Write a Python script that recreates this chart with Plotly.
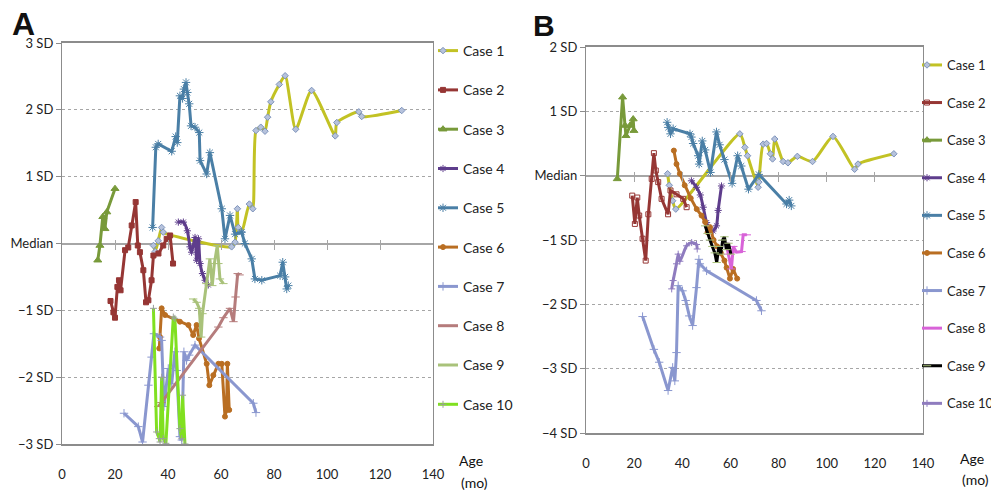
import plotly.graph_objects as go

# ---------------- data: panel A ----------------
case_names = ["Case 1", "Case 2", "Case 3", "Case 4", "Case 5",
              "Case 6", "Case 7", "Case 8", "Case 9", "Case 10"]

a1_age = [34.5, 35.2, 36.3, 37.6, 38.2, 64.0, 65.3, 66.2, 66.5, 67.8, 70.7, 72.0, 73.2, 75.0, 76.6,
          77.6, 78.8, 82.0, 84.2, 88.2, 94.2, 103.1, 103.7, 112.0, 113.1, 128.2]
a1_sd = [-0.03, -0.12, 0.04, 0.24, 0.17, -0.05, 0.02, 0.52, 0.24, 0.17, 0.59, 0.52, 1.69, 1.74, 1.68,
         1.89, 2.12, 2.38, 2.51, 1.71, 2.29, 1.61, 1.81, 1.97, 1.90, 1.99]
a2_age = [18.3, 19.4, 20.0, 20.9, 21.5, 22.1, 23.8, 25.0, 26.3, 27.8, 28.6, 29.4, 30.7, 31.7, 32.6,
          33.8, 34.5, 36.4, 38.2, 39.5, 40.8, 41.9]
a2_sd = [-0.86, -1.03, -1.11, -0.65, -0.55, -0.70, -0.10, -0.06, 0.27, 0.62, -0.03, -0.13, -0.40,
         -0.88, -0.85, -0.55, -0.18, -0.15, -0.03, 0.07, 0.12, -0.30]
a3_age = [13.5, 14.3, 15.4, 16.2, 16.9, 20.0]
a3_sd = [-0.25, -0.03, 0.40, 0.22, 0.47, 0.82]
a4_age = [43.9, 45.8, 47.3, 48.3, 48.9, 50.2, 50.8, 51.5, 52.1, 53.0, 54.0, 55.2]
a4_sd = [0.32, 0.32, 0.19, -0.05, -0.13, 0.09, -0.25, 0.07, -0.30, -0.45, -0.55, -0.62]
a5_age = [34.2, 35.4, 36.3, 41.4, 42.9, 43.5, 44.5, 45.5, 46.0, 46.8, 47.3, 48.0, 48.7, 50.2, 51.8,
          52.1, 54.6, 55.8, 60.3, 61.5, 63.4, 65.3, 67.8, 69.0, 71.6, 72.8, 75.4, 82.3, 83.3, 84.2,
          84.8, 85.4]
a5_sd = [0.24, 1.44, 1.49, 1.38, 1.60, 1.51, 2.21, 2.17, 2.31, 2.41, 2.26, 2.09, 1.76, 1.74, 1.66,
         1.24, 1.04, 1.36, 0.52, 0.07, 0.42, 0.14, 0.17, 0.00, -0.23, -0.53, -0.55, -0.48, -0.28,
         -0.50, -0.68, -0.63]
a6_age = [36.7, 37.0, 37.6, 38.9, 44.5, 47.7, 49.5, 50.8, 51.7, 54.6, 55.6, 57.1, 59.0, 60.3, 61.5,
          62.1, 62.4, 63.1]
a6_sd = [-1.57, -1.40, -0.97, -1.07, -1.17, -1.22, -1.37, -1.22, -1.42, -1.80, -2.12, -1.97, -1.80,
         -1.80, -2.59, -2.49, -1.80, -2.49]
a7_age = [23.4, 28.8, 30.4, 32.6, 33.8, 34.7, 37.0, 37.6, 38.5, 40.1, 41.4, 42.6, 43.3, 44.5, 45.2,
          46.0, 47.0, 48.0, 50.2, 72.2, 73.2]
a7_sd = [-2.54, -2.74, -2.97, -2.12, -1.70, -1.35, -1.40, -1.45, -2.44, -1.87, -2.10, -1.62, -1.90,
         -2.89, -2.94, -1.62, -1.75, -1.67, -1.52, -2.39, -2.53]
a8_age = [36.3, 37.5, 59.0, 60.9, 63.4, 64.7, 65.5, 66.3, 67.0]
a8_sd = [-2.44, -2.38, -1.25, -1.11, -0.97, -1.17, -0.80, -0.45, -0.47]
a9_age = [49.5, 50.8, 51.8, 52.5, 53.0, 54.5, 55.8, 56.7, 57.5, 58.6, 59.0, 59.6, 60.9]
a9_sd = [-0.83, -0.88, -0.97, -1.40, -1.05, -0.60, -0.23, -0.63, -0.30, -0.03, -0.30, -0.53, -0.60]
a10_age = [34.5, 35.7, 36.7, 37.0, 37.6, 38.2, 39.2, 42.0, 42.6, 44.5, 45.2, 45.5, 46.4]
a10_sd = [-0.97, -2.82, -2.92, -2.97, -2.00, -2.92, -2.99, -1.10, -1.12, -2.77, -2.92, -2.27, -3.00]

# ---------------- data: panel B ----------------
b1_age = [33.9, 34.6, 36.0, 37.3, 63.9, 66.0, 67.1, 71.5, 71.8, 73.6, 75.0, 76.6, 77.5, 78.4, 81.9,
          83.9, 87.8, 94.1, 102.6, 111.6, 113.0, 127.9]
b1_sd = [0.03, -0.15, -0.39, -0.52, 0.65, 0.44, 0.31, -0.18, -0.10, 0.49, 0.50, 0.34, 0.26, 0.57,
         0.22, 0.20, 0.30, 0.22, 0.61, 0.10, 0.18, 0.34]
b2_age = [19.2, 20.3, 21.3, 22.1, 23.5, 24.8, 25.9, 27.3, 28.2, 29.0, 30.0, 31.4, 34.1, 35.1, 37.6,
          40.4, 41.8]
b2_sd = [-0.31, -0.75, -0.34, -0.62, -0.98, -1.32, -0.60, -0.05, 0.35, 0.08, -0.10, -0.36, -0.60,
         -0.23, -0.29, -0.36, -0.49]
b3_age = [13.0, 15.2, 16.2, 16.6, 18.3, 19.6, 19.9]
b3_sd = [-0.05, 1.22, 0.78, 0.62, 0.78, 0.88, 0.70]
b4_age = [43.8, 45.9, 47.5, 48.7, 50.1, 51.5, 52.8, 54.2, 54.9, 56.3]
b4_sd = [-0.08, -0.18, -0.30, -0.49, -0.73, -0.85, -0.86, -0.78, -0.54, -0.16]
b5_age = [33.7, 34.2, 35.1, 36.2, 43.2, 43.8, 44.5, 46.6, 47.0, 48.3, 49.5, 51.7, 54.2, 55.5, 57.5,
          60.7, 63.0, 64.5, 67.5, 71.8, 83.3, 84.4, 85.3]
b5_sd = [0.83, 0.75, 0.65, 0.73, 0.65, 0.60, 0.50, 0.31, 0.18, 0.54, 0.40, 0.05, 0.68, 0.48, 0.25,
         -0.12, 0.31, 0.15, -0.21, 0.02, -0.44, -0.38, -0.47]
b6_age = [36.5, 37.6, 39.0, 41.0, 43.5, 46.0, 48.0, 49.5, 50.5, 51.5, 53.0, 54.5, 56.0, 57.5, 58.4,
          59.8, 61.1, 62.8]
b6_sd = [0.39, 0.18, 0.03, -0.15, -0.35, -0.52, -0.62, -0.72, -0.88, -0.80, -1.00, -1.10, -1.20,
         -1.32, -1.43, -1.60, -1.45, -1.60]
b7_age = [23.5, 28.2, 30.4, 34.1, 36.0, 36.9, 37.6, 38.3, 40.1, 41.4, 42.9, 44.3, 45.9, 46.9, 47.3,
          50.1, 70.8, 72.9]
b7_sd = [-2.19, -2.70, -2.90, -3.34, -2.98, -3.19, -2.75, -1.71, -1.79, -1.94, -2.18, -2.33, -1.74,
         -1.30, -1.37, -1.48, -1.94, -2.10]
b8_age = [58.2, 59.2, 60.4, 61.2, 62.5, 64.6, 65.3, 66.8]
b8_sd = [-1.05, -1.22, -1.45, -1.10, -1.19, -1.18, -0.92, -0.92]
b9_age = [49.5, 50.5, 51.5, 52.5, 53.5, 54.3, 55.2, 56.0, 56.8, 57.5, 58.3, 59.2, 60.2]
b9_sd = [-0.78, -0.90, -1.00, -1.10, -1.20, -1.35, -1.10, -1.22, -1.00, -0.95, -1.15, -1.05, -1.22]
b10_age = [35.6, 36.2, 37.6, 38.3, 39.0, 41.8, 43.9, 45.9, 46.2]
b10_sd = [-1.76, -1.63, -1.37, -1.22, -1.33, -1.09, -1.04, -1.07, -1.14]

a_tickvals = [3, 2, 1, 0, -1, -2, -3]
a_ticktext = ["3 SD", "2 SD", "1 SD", "Median", "\u22121 SD", "\u22122 SD", "\u22123 SD"]
b_tickvals = [2, 1, 0, -1, -2, -3, -4]
b_ticktext = ["2 SD", "1 SD", "Median", "\u22121 SD", "\u22122 SD", "\u22123 SD", "\u22124 SD"]
x_tickvals = [0, 20, 40, 60, 80, 100, 120, 140]

# ---------------- styles ----------------
FONT = "Lato, Carlito, Calibri, sans-serif"
# the page body has an 8px default margin, so the figure is sized to the visible area
OFF = 8
W, H = 999 - OFF, 492 - OFF


def px(sx):  # screen x -> paper fraction
    return (sx - OFF) / W


def py(sy):  # screen y -> paper fraction
    return 1 - (sy - OFF) / H


styles_a = [
    dict(color="#c2c224", sym="diamond", mcol="#b6c2dc", mline="#7d93bb", size=5, shape="spline"),
    dict(color="#963634", sym="square", mcol="#963634", mline="#963634", size=5, shape="linear"),
    dict(color="#789a3a", sym="triangle-up", mcol="#789a3a", mline="#789a3a", size=7, shape="linear"),
    dict(color="#5e3d8c", sym="asterisk-open", mcol="#5e3d8c", mline="#5e3d8c", size=6, shape="spline"),
    dict(color="#4a7fa6", sym="asterisk-open", mcol="#4a7fa6", mline="#8fb0c8", size=7, shape="linear"),
    dict(color="#b96e22", sym="circle", mcol="#b96e22", mline="#b96e22", size=5, shape="linear"),
    dict(color="#8a97cf", sym="cross-thin-open", mcol="#8a97cf", mline="#8a97cf", size=6, shape="linear"),
    dict(color="#b57c7c", sym="line-ew-open", mcol="#b57c7c", mline="#b57c7c", size=6, shape="linear"),
    dict(color="#a9c27a", sym="line-ew-open", mcol="#a9c27a", mline="#a9c27a", size=6, shape="linear"),
    dict(color="#80e020", sym="cross-thin-open", mcol="#9aa09a", mline="#9aa09a", size=5, shape="linear"),
]
styles_b = [dict(s) for s in styles_a]
styles_b[1].update(sym="square-open", mline="#963634")
styles_b[7].update(color="#d863d8", mcol="#d863d8", mline="#d863d8")
styles_b[8].update(color="#000000", mcol="#a9c27a", mline="#a9c27a")
styles_b[9].update(color="#8f7cbf", mcol="#8f7cbf", mline="#8f7cbf", shape="spline")

data_a = [(a1_age, a1_sd), (a2_age, a2_sd), (a3_age, a3_sd), (a4_age, a4_sd), (a5_age, a5_sd),
          (a6_age, a6_sd), (a7_age, a7_sd), (a8_age, a8_sd), (a9_age, a9_sd), (a10_age, a10_sd)]
data_b = [(b1_age, b1_sd), (b2_age, b2_sd), (b3_age, b3_sd), (b4_age, b4_sd), (b5_age, b5_sd),
          (b6_age, b6_sd), (b7_age, b7_sd), (b8_age, b8_sd), (b9_age, b9_sd), (b10_age, b10_sd)]

fig = go.Figure()


def add_series(data, styles, xa, ya, legend, prefix):
    for name, (xs, ys), st in zip(case_names, data, styles):
        fig.add_trace(go.Scatter(
            x=xs, y=ys, name=name, mode="lines+markers",
            xaxis=xa, yaxis=ya, legend=legend, legendgroup=prefix + name,
            line=dict(color=st["color"], width=3, shape=st["shape"], smoothing=0.6),
            marker=dict(symbol=st["sym"], size=st["size"], color=st["mcol"],
                        line=dict(color=st["mline"], width=1)),
        ))


add_series(data_a, styles_a, "x", "y", "legend", "A")
add_series(data_b, styles_b, "x2", "y2", "legend2", "B")

# invisible helper traces so the median tick axes are drawn
fig.add_trace(go.Scatter(x=[None], y=[None], xaxis="x3", yaxis="y", showlegend=False, hoverinfo="skip"))
fig.add_trace(go.Scatter(x=[None], y=[None], xaxis="x4", yaxis="y2", showlegend=False, hoverinfo="skip"))

# domains (paper fractions), from the reference's screen pixels
ax_dom = [px(62), px(433)]
bx_dom = [px(586), px(923)]
ay_dom = [py(444), py(43)]
by_dom = [py(433), py(47)]

a_median = ay_dom[0] + (ay_dom[1] - ay_dom[0]) * 3 / 6
b_median = by_dom[0] + (by_dom[1] - by_dom[0]) * 4 / 6

axis_line = "#8c8c8c"
tickfont = dict(family=FONT, size=13, color="#222")


def xaxis(dom, anchor):
    return dict(domain=dom, anchor=anchor, range=[0, 140], tickvals=x_tickvals,
                showgrid=False, zeroline=False, showline=True, mirror=True,
                linecolor=axis_line, linewidth=1.5, ticks="", ticklabelstandoff=18,
                tickfont=tickfont, fixedrange=True, automargin=False)


def yaxis(dom, anchor, rng, tv, tt):
    return dict(domain=dom, anchor=anchor, range=rng, tickvals=tv, ticktext=tt,
                showgrid=True, gridcolor="#a6a6a6", griddash="dot", gridwidth=1,
                zeroline=True, zerolinecolor="#a6a6a6", zerolinewidth=1.8,
                showline=True, mirror=True, linecolor=axis_line, linewidth=1.2,
                ticks="outside", ticklen=5, tickcolor=axis_line, ticklabelstandoff=0,
                tickfont=tickfont, fixedrange=True, automargin=False)


def median_ticks(overlay, pos):
    return dict(overlaying=overlay, anchor="free", position=pos + 5 / H, range=[0, 140],
                tickvals=[20, 40, 60, 80, 100, 120], ticks="outside", ticklen=10,
                tickcolor="#a6a6a6", tickwidth=1.3, showticklabels=False,
                showgrid=False, zeroline=False, showline=False, fixedrange=True,
                automargin=False)


def label(text, sx, sy, size, anchor="middle", family=FONT):
    return dict(text=text, x=px(sx), y=py(sy), xref="paper", yref="paper",
                xanchor="center", yanchor=anchor, showarrow=False, borderpad=0,
                font=dict(family=family, size=size, color="#111"))


fig.update_layout(
    width=W, height=H,
    margin=dict(l=0, r=0, t=0, b=0, autoexpand=False),
    paper_bgcolor="white", plot_bgcolor="white",
    font=dict(family=FONT, size=13, color="#222"),
    xaxis=xaxis(ax_dom, "y"),
    yaxis=yaxis(ay_dom, "x", [-3, 3], a_tickvals, a_ticktext),
    xaxis2=xaxis(bx_dom, "y2"),
    yaxis2=yaxis(by_dom, "x2", [-4, 2], b_tickvals, b_ticktext),
    xaxis3=median_ticks("x", a_median),
    xaxis4=median_ticks("x2", b_median),
    legend=dict(x=px(438), y=py(35), xanchor="left", yanchor="top",
                font=dict(family=FONT, size=14, color="#222"), indentation=-15,
                tracegroupgap=18.1, itemwidth=30, bgcolor="rgba(0,0,0,0)"),
    legend2=dict(x=1, y=py(50), xanchor="right", yanchor="top",
                 font=dict(family=FONT, size=13, color="#222"), indentation=-15,
                 tracegroupgap=17.7, itemwidth=30, bgcolor="rgba(0,0,0,0)"),
    annotations=[
        label("<b>A</b>", 23, 24.5, 32, family="Liberation Sans, Arial"),
        label("<b>B</b>", 544, 26, 30, family="Liberation Sans, Arial"),
        label("Age", 471, 460, 14),
        label("(mo)", 474, 482, 14),
        label("Age", 972, 458, 14),
        label("(mo)", 975, 479, 14),
    ],
)

fig.write_html("out.html")
